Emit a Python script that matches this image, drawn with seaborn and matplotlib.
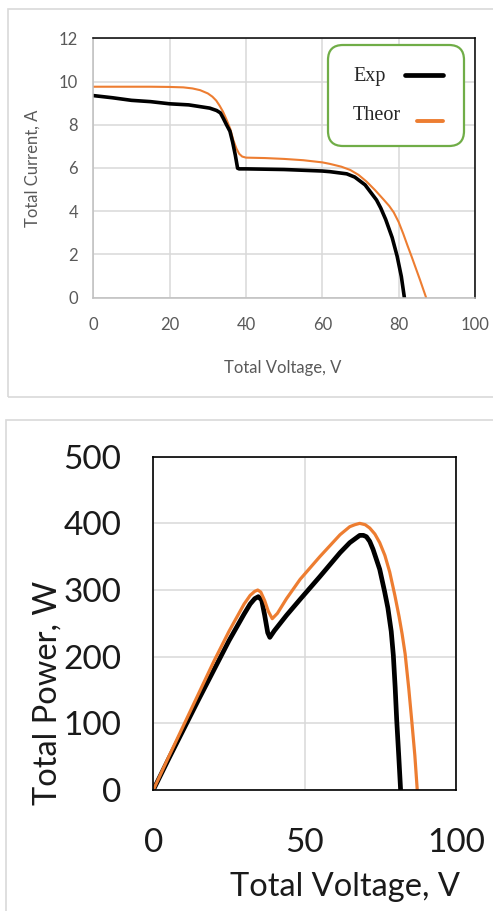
import numpy as np
import pandas as pd
import matplotlib
matplotlib.use("Agg")
import matplotlib.pyplot as plt
from matplotlib.patches import Rectangle, FancyBboxPatch
from matplotlib.lines import Line2D
import seaborn as sns

v_exp = [0, 5, 10, 15, 20, 25, 30.5, 32.3, 33.3, 34.0, 34.9, 35.8, 36.5, 37.2, 37.8, 38.2,
         40, 50, 60, 62, 66.4, 68.5, 71.2, 74.2, 75.3, 76.6, 78.3, 79.6, 80.7, 81.5]
i_exp = [9.35, 9.25, 9.13, 9.07, 8.97, 8.92, 8.77, 8.66, 8.55, 8.32, 8.0, 7.7, 7.2, 6.6, 5.99, 5.96,
         5.96, 5.93, 5.86, 5.83, 5.73, 5.58, 5.22, 4.52, 4.15, 3.62, 2.78, 1.92, 0.98, 0.0]

# I-V curve, theoretical
v_th = [0, 10, 15, 20, 23.6, 26, 28, 30, 31.2, 32.2, 33.1, 34.0, 35.0, 35.9, 36.7, 37.5, 38.2, 39.0, 40,
        45, 50, 55, 60, 62, 65, 67.3, 69.5, 71.6, 73.8, 76.0, 77.5, 78.7, 80.0, 81.2, 82.3, 83.4, 84.5,
        85.6, 86.4, 87.2]
i_th = [9.76, 9.76, 9.76, 9.75, 9.73, 9.68, 9.6, 9.45, 9.3, 9.12, 8.88, 8.6, 8.2, 7.8, 7.28, 6.9, 6.66, 6.53, 6.48,
        6.46, 6.42, 6.36, 6.26, 6.19, 6.06, 5.91, 5.68, 5.37, 4.98, 4.55, 4.25, 3.95, 3.5, 2.96, 2.42, 1.9, 1.36,
        0.82, 0.41, 0.0]

pv_exp_v = [0, 5, 10, 15, 20, 25, 30, 32, 33.5, 34.7, 35.8, 36.8, 37.8, 38.5, 40, 44, 48.5, 55, 61.7,
            64.9, 67, 68.2, 69.4, 70.4, 71.5, 72.6, 74.8, 76.4, 77.5, 78.6, 79.3, 79.9, 80.4, 81.1, 81.7]
pv_exp_p = [0, 46, 91, 136, 180, 224, 264, 279, 287, 290, 285, 262, 236, 229, 239, 262, 286, 320, 356,
            371, 378, 382, 382, 380, 373, 361, 331, 298, 273, 238, 202, 154, 106, 50, 0]

# P-V curve, theoretical
pv_th_v = [0, 5, 10, 15, 20, 25, 30, 32, 33.5, 34.5, 35.5, 36.8, 38, 39.3, 41, 44, 48.5, 55, 61.7,
           64.9, 66.6, 68.2, 70, 71.5, 73.2, 74.8, 76.5, 78.1, 79.8, 81.2, 82.2, 83.2, 84.4, 85.4, 86.4, 87.2]
pv_th_p = [0, 49, 97, 145, 193, 238, 279, 292, 298, 300, 297, 284, 268, 257, 265, 287, 316, 350, 383,
           395, 398, 400, 398, 393, 384, 371, 352, 327, 292, 260, 234, 204, 152, 103, 52, 0]

W, H = 493, 911
ORANGE = "#ED7D31"
GRID = "#d9d9d9"

sns.set_style("white")
plt.rcParams["font.family"] = ["Lato", "DejaVu Sans"]

fig = plt.figure(figsize=(W / 100, H / 100), dpi=100)
T = fig.dpi_scale_trans  # inches; 1 in = 100 px


def P(x, y):
    # pixel position (from top-left) -> inches from bottom-left
    return x / 100, (H - y) / 100


def px_axes(x0, y0, x1, y1):
    return fig.add_axes([x0 / W, 1 - y1 / H, (x1 - x0) / W, (y1 - y0) / H])


# panel frames
fig.patches.append(Rectangle(P(8, 397), (W + 10 - 8) / 100, (397 - 9) / 100,
                             transform=T, fill=False, ec=GRID, lw=1.2))
fig.patches.append(Rectangle(P(6, H + 10), (W + 10 - 6) / 100, (H + 10 - 420) / 100,
                             transform=T, fill=False, ec=GRID, lw=1.2))

# ---- top: current vs voltage
ax1 = px_axes(93.3, 38.3, 475, 297.7)
iv = pd.concat([pd.DataFrame({"V": v_exp, "I": i_exp, "s": "Exp"}),
                pd.DataFrame({"V": v_th, "I": i_th, "s": "Theor"})])
sns.lineplot(data=iv[iv.s == "Theor"], x="V", y="I", color=ORANGE, lw=1.5, ax=ax1)
sns.lineplot(data=iv[iv.s == "Exp"], x="V", y="I", color="black", lw=2.6, ax=ax1)
ax1.set_xlim(0, 100)
ax1.set_ylim(0, 12)
ax1.set_xticks(range(0, 101, 20))
ax1.set_yticks(range(0, 13, 2))
ax1.grid(True, color=GRID, lw=1.1)
ax1.set_axisbelow(True)
for s in ["left", "bottom"]:
    ax1.spines[s].set_color("#bfbfbf")
    ax1.spines[s].set_linewidth(1.1)
for s in ["top", "right"]:
    ax1.spines[s].set_color("black")
    ax1.spines[s].set_linewidth(1.1)
ax1.tick_params(length=0, labelsize=12, labelcolor="#595959")
ax1.tick_params(axis="y", pad=11)
ax1.tick_params(axis="x", pad=14)
ax1.set_xlabel("Total Voltage, V", fontsize=12, color="#595959", va="center")
ax1.set_ylabel("Total Current, A", fontsize=12, color="#595959", va="center")
ax1.xaxis.set_label_coords(0.497, -0.271)
ax1.yaxis.set_label_coords(-0.158, 0.5)

# legend box (Excel style: label first, key after)
fig.patches.append(FancyBboxPatch(P(328, 146), 1.36, 1.01, transform=T,
                                  boxstyle="round,pad=0,rounding_size=0.15",
                                  fc="white", ec="#70AD47", lw=1.6, zorder=5))
serif = {"family": "Liberation Serif", "size": 14.5}
fig.text(*P(353, 81), "Exp", transform=T, fontdict=serif, va="baseline", zorder=6)
fig.text(*P(353, 120), "Theor", transform=T, fontdict=serif, va="baseline", zorder=6)
fig.lines.append(Line2D(*zip(P(405, 75), P(443, 75)), transform=T, color="black", lw=3.4, zorder=6))
fig.lines.append(Line2D(*zip(P(417, 121), P(443, 121)), transform=T, color=ORANGE, lw=2.8, zorder=6))

# ---- bottom: power vs voltage
ax2 = px_axes(153.3, 456.7, 456, 790)
pv = pd.concat([pd.DataFrame({"V": pv_exp_v, "P": pv_exp_p, "s": "Exp"}),
                pd.DataFrame({"V": pv_th_v, "P": pv_th_p, "s": "Theor"})])
sns.lineplot(data=pv[pv.s == "Exp"], x="V", y="P", color="black", lw=3.4, ax=ax2)
sns.lineplot(data=pv[pv.s == "Theor"], x="V", y="P", color=ORANGE, lw=2.3, ax=ax2)
ax2.set_xlim(0, 100)
ax2.set_ylim(0, 500)
ax2.set_xticks([0, 50, 100])
ax2.set_yticks(range(0, 501, 100))
ax2.grid(True, color=GRID, lw=1.1)
ax2.set_axisbelow(True)
for s in ax2.spines.values():
    s.set_color("black")
    s.set_linewidth(1.2)
ax2.tick_params(length=0, labelsize=24, labelcolor="#1a1a1a")
ax2.tick_params(axis="y", pad=23)
ax2.tick_params(axis="x", pad=27)
ax2.set_xlabel("Total Voltage, V", fontsize=23.5, color="#1a1a1a", va="center")
ax2.set_ylabel("Total Power, W", fontsize=23.5, color="#1a1a1a", va="center")
ax2.xaxis.set_label_coords(0.633, -0.291)
ax2.yaxis.set_label_coords(-0.351, 0.291)

fig.savefig("out.png", dpi=100)
